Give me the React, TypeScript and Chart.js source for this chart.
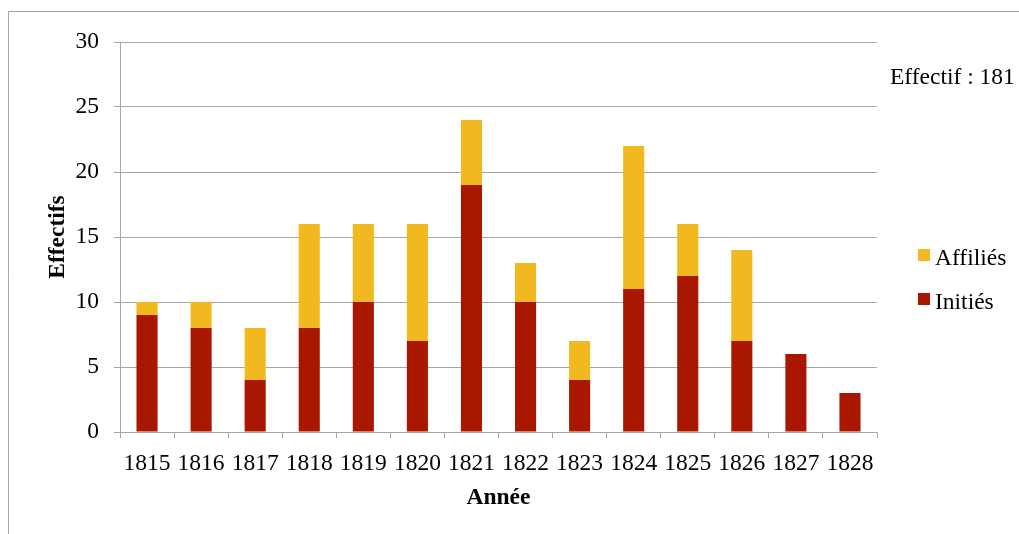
import React, { useEffect, useRef } from "react";
import { Chart, registerables } from "chart.js";

Chart.register(...registerables);

const years = ["1815", "1816", "1817", "1818", "1819", "1820", "1821", "1822", "1823", "1824", "1825", "1826", "1827", "1828"];
const inities = [9, 8, 4, 8, 10, 7, 19, 10, 4, 11, 12, 7, 6, 3];
const affilies = [1, 2, 4, 8, 6, 9, 5, 3, 3, 11, 4, 7, 0, 0];
const seriesNames = ["Initiés", "Affiliés"];
const totalLabel = "Effectif : 181";
const xTitle = "Année";
const yTitle = "Effectifs";

const RED = "#A91700";
const YELLOW = "#F2B81F";
const GRID = "#A6A6A6";
const FAMILY = "'Liberation Serif', 'Times New Roman', serif";
const FS = 23.5;

const overlay = {
  id: "overlay",
  beforeDraw(chart: any) {
    const ctx = chart.ctx;
    ctx.save();
    ctx.strokeStyle = GRID;
    ctx.lineWidth = 1;
    ctx.beginPath();
    ctx.moveTo(8.5, chart.height);
    ctx.lineTo(8.5, 11.5);
    ctx.lineTo(chart.width, 11.5);
    ctx.stroke();
    ctx.restore();
  },
  afterDraw(chart: any) {
    const ctx = chart.ctx;
    const area = chart.chartArea;
    ctx.save();
    ctx.font = `${FS}px ${FAMILY}`;
    ctx.fillStyle = "#000";
    ctx.textBaseline = "alphabetic";
    ctx.textAlign = "left";
    ctx.fillText(totalLabel, area.right + 13, 84);
    const items = [
      { label: seriesNames[1], color: YELLOW, y: 249 },
      { label: seriesNames[0], color: RED, y: 293 },
    ];
    for (const it of items) {
      ctx.fillStyle = it.color;
      ctx.fillRect(area.right + 41, it.y, 12, 12);
      ctx.fillStyle = "#000";
      ctx.fillText(it.label, area.right + 58, it.y + 16);
    }
    ctx.restore();
  },
};

export default function App() {
  const ref = useRef<HTMLCanvasElement>(null);
  useEffect(() => {
    if (!ref.current) return;
    const font = { family: FAMILY, size: FS };
    const chart = new Chart(ref.current, {
      type: "bar",
      data: {
        labels: years,
        datasets: [
          { label: seriesNames[0], data: inities, backgroundColor: RED, barPercentage: 0.39, categoryPercentage: 1 },
          { label: seriesNames[1], data: affilies, backgroundColor: YELLOW, barPercentage: 0.39, categoryPercentage: 1 },
        ],
      },
      options: {
        responsive: false,
        maintainAspectRatio: false,
        animation: false,
        layout: { padding: { top: 42, right: 142, left: 0, bottom: 0 } },
        plugins: { legend: { display: false }, tooltip: { enabled: false } },
        scales: {
          x: {
            stacked: true,
            grid: { display: true, drawOnChartArea: false, drawTicks: true, tickLength: 6, color: GRID, offset: true },
            border: { color: GRID, width: 1 },
            ticks: { font, color: "#000", padding: 12, maxRotation: 0, autoSkip: false },
            title: { display: true, text: xTitle, color: "#000", font: { family: FAMILY, size: FS, weight: "bold" }, padding: { top: 0, bottom: 22 } },
            afterFit: (s: any) => { s.height = 102; },
          },
          y: {
            stacked: true,
            min: 0,
            max: 30,
            ticks: { stepSize: 5, font, color: "#000", padding: 15 },
            grid: { color: GRID, tickLength: 6 },
            border: { color: GRID, width: 1 },
            title: { display: true, text: yTitle, color: "#000", font: { family: FAMILY, size: FS, weight: "bold" }, padding: { top: 44, bottom: 0 } },
            afterFit: (s: any) => { s.width = 120; },
          },
        },
      } as any,
      plugins: [overlay],
    });
    return () => chart.destroy();
  }, []);
  return (
    <div style={{ position: "absolute", left: 0, top: 0, width: 1019, height: 534, background: "#fff" }}>
      <canvas ref={ref} width={1019} height={534} style={{ width: 1019, height: 534, display: "block" }} />
    </div>
  );
}
